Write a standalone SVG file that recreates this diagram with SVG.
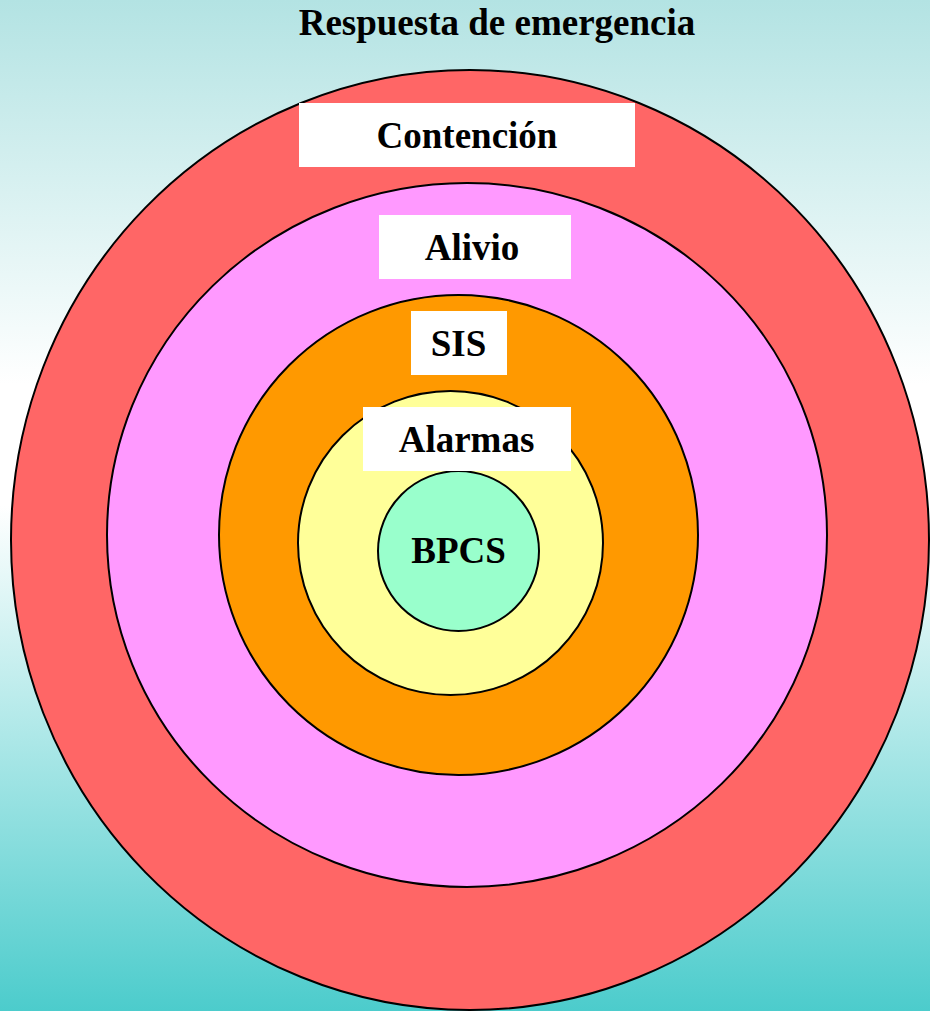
<svg xmlns="http://www.w3.org/2000/svg" width="930" height="1011" viewBox="0 0 930 1011">
  <defs>
    <linearGradient id="bg" x1="0" y1="0" x2="0" y2="1">
      <stop offset="0" stop-color="#b3e3e3"/>
      <stop offset="0.38" stop-color="#ffffff"/>
      <stop offset="0.5" stop-color="#ffffff"/>
      <stop offset="1" stop-color="#4ccccc"/>
    </linearGradient>
    <style>
      .ring { stroke: #000000; stroke-width: 2; }
      .tag { fill: #ffffff; }
      .lbl { font-family: "Liberation Serif", "Times New Roman", serif; font-weight: bold; font-size: 37px; fill: #000000; text-anchor: middle; }
    </style>
  </defs>

  <!-- background -->
  <rect x="0" y="0" width="930" height="1011" fill="url(#bg)"/>

  <!-- title -->
  <text class="lbl" x="497" y="35">Respuesta de emergencia</text>

  <!-- concentric layers, outermost first -->
  <g id="contencion">
    <ellipse class="ring" cx="470" cy="540" rx="459" ry="470" fill="#ff6666"/>
  </g>
  <g id="alivio">
    <ellipse class="ring" cx="467" cy="535" rx="360" ry="352" fill="#ff99ff"/>
  </g>
  <g id="sis">
    <ellipse class="ring" cx="458.5" cy="535" rx="239.5" ry="240" fill="#ff9900"/>
  </g>
  <g id="alarmas">
    <ellipse class="ring" cx="450.5" cy="543" rx="152.5" ry="152" fill="#ffff99"/>
  </g>
  <g id="bpcs">
    <ellipse class="ring" cx="458.5" cy="551" rx="80.5" ry="80" fill="#99ffcc"/>
    <text class="lbl" x="458.5" y="563">BPCS</text>
  </g>

  <!-- layer labels -->
  <g id="contencion-label">
    <rect class="tag" x="299" y="103" width="336" height="64"/>
    <text class="lbl" x="467" y="148">Contención</text>
  </g>
  <g id="alivio-label">
    <rect class="tag" x="379" y="215" width="192" height="64"/>
    <text class="lbl" x="472" y="260">Alivio</text>
  </g>
  <g id="sis-label">
    <rect class="tag" x="411" y="311" width="96" height="64"/>
    <text class="lbl" x="458.5" y="356">SIS</text>
  </g>
  <g id="alarmas-label">
    <rect class="tag" x="363" y="407" width="208" height="64"/>
    <text class="lbl" x="466.5" y="452">Alarmas</text>
  </g>
</svg>
